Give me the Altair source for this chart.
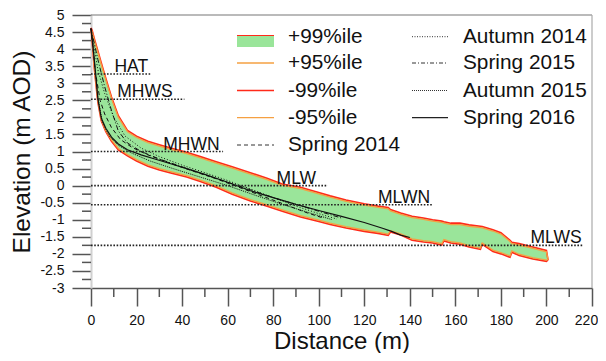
import altair as alt
import pandas as pd

FONT = "Liberation Sans, Arial, sans-serif"

# ---- percentile envelope (distance grid shared by all four edges) ----
band_dist = [0, 0.5, 1.5, 3, 4.5, 6.5, 9, 12, 16, 20, 25, 30, 35, 42, 48, 55, 62, 70, 77, 84,
             92, 100, 105, 112, 120, 126, 130.5, 131.5, 136, 141, 146, 150, 154, 155, 158, 162,
             166, 171, 171.8, 176.5, 180, 184, 184.8, 188, 194, 200, 200.7]
upper99 = [4.62, 4.55, 4.3, 3.95, 3.6, 3.15, 2.6, 2.05, 1.62, 1.45, 1.3, 1.2, 1.1, 0.98, 0.85,
           0.7, 0.55, 0.38, 0.22, 0.05, -0.05, -0.2, -0.3, -0.42, -0.53, -0.6, -0.64, -0.7,
           -0.8, -0.9, -0.95, -1.0, -1.04, -1.06, -1.1, -1.1, -1.15, -1.19, -1.2, -1.29, -1.38,
           -1.6, -1.66, -1.7, -1.8, -1.9, -2.18]
upper95 = [4.58, 4.5, 4.25, 3.9, 3.55, 3.1, 2.55, 2.0, 1.58, 1.41, 1.26, 1.16, 1.06, 0.94, 0.81,
           0.66, 0.51, 0.34, 0.18, 0.01, -0.09, -0.24, -0.34, -0.46, -0.57, -0.64, -0.68, -0.74,
           -0.84, -0.94, -0.99, -1.04, -1.08, -1.1, -1.14, -1.14, -1.19, -1.23, -1.24, -1.33,
           -1.42, -1.64, -1.7, -1.74, -1.84, -1.94, -2.16]
lower99 = [4.62, 4.25, 3.4, 2.45, 1.9, 1.58, 1.3, 1.05, 0.87, 0.72, 0.57, 0.46, 0.37, 0.25, 0.12,
           -0.05, -0.25, -0.45, -0.6, -0.75, -0.92, -1.05, -1.14, -1.24, -1.34, -1.4, -1.46,
           -1.36, -1.45, -1.6, -1.65, -1.68, -1.74, -1.62, -1.68, -1.72, -1.8, -1.87, -1.72,
           -1.93, -2.0, -2.1, -1.95, -2.05, -2.15, -2.22, -2.18]
lower95 = [4.58, 4.29, 3.45, 2.5, 1.94, 1.62, 1.34, 1.09, 0.91, 0.76, 0.61, 0.5, 0.41, 0.29, 0.16,
           -0.01, -0.21, -0.41, -0.56, -0.71, -0.88, -1.01, -1.1, -1.2, -1.3, -1.36, -1.42,
           -1.32, -1.41, -1.56, -1.61, -1.64, -1.7, -1.58, -1.64, -1.68, -1.76, -1.83, -1.68,
           -1.89, -1.96, -2.06, -1.91, -2.01, -2.11, -2.18, -2.16]

# ---- surveyed profiles ----
spring2014_d = [0, 2, 4, 6, 9, 13, 18, 25, 35, 45, 55, 65, 75, 85, 95, 102]
spring2014_e = [4.6, 3.3, 2.5, 2.1, 1.7, 1.35, 1.12, 0.9, 0.65, 0.42, 0.2, -0.05, -0.3, -0.55, -0.8, -0.95]
autumn2014_d = [0, 3, 6, 10, 15, 22, 30, 40, 50, 60, 70, 80, 90, 100, 108]
autumn2014_e = [4.6, 3.4, 2.7, 2.0, 1.45, 1.1, 0.85, 0.6, 0.38, 0.15, -0.1, -0.35, -0.6, -0.82, -0.98]
spring2015_d = [0, 3, 6, 9, 12, 16, 22, 30, 40, 50, 60, 70, 80, 90, 100, 110]
spring2015_e = [4.6, 3.7, 2.9, 2.2, 1.6, 1.25, 1.0, 0.78, 0.55, 0.32, 0.1, -0.12, -0.35, -0.55, -0.75, -0.95]
autumn2015_d = [0, 1.5, 3, 5, 8, 12, 18, 26, 36, 48, 60, 72, 84, 96, 106]
autumn2015_e = [4.6, 3.6, 2.6, 1.85, 1.45, 1.18, 0.95, 0.72, 0.5, 0.25, 0.0, -0.28, -0.55, -0.8, -1.0]
spring2016_d = [0, 1, 2, 3, 4.5, 6.5, 9, 12, 16, 22, 28, 35, 42, 50, 60, 70, 80, 90, 100, 110,
                120, 128, 132, 136, 140]
spring2016_e = [4.6, 4.0, 3.3, 2.55, 1.98, 1.68, 1.42, 1.22, 1.05, 0.9, 0.78, 0.64, 0.5, 0.33,
                0.1, -0.15, -0.35, -0.55, -0.73, -0.9, -1.08, -1.25, -1.34, -1.45, -1.52]

# ---- tidal levels ----
tide_names = ["HAT", "MHWS", "MHWN", "MLW", "MLWN", "MLWS"]
tide_levels = [3.27, 2.53, 1.0, 0.0, -0.56, -1.75]
tide_ends = [26.3, 41, 58, 104, 150, 216]
tide_label_x = [10.3, 11.5, 31.7, 81.5, 126, 193]

x_ticks = list(range(0, 221, 20))
x_minor = list(range(10, 220, 20))
y_ticks = [-3 + 0.5 * i for i in range(17)]
y_minor = [-2.75 + 0.5 * i for i in range(16)]

# ---------------- encodings ----------------
xscale = alt.Scale(domain=[0, 220], nice=False, zero=False)
yscale = alt.Scale(domain=[-3, 5], nice=False, zero=False)
xaxis = alt.Axis(values=x_ticks, title="Distance (m)", titleFont=FONT, titleFontSize=24,
                 titleFontWeight="normal", titleColor="#111", titlePadding=2,
                 labelFont=FONT, labelFontSize=14, labelColor="#111", labelPadding=7,
                 labelOffset={"condition": {"test": "datum.value == 220", "value": -6}, "value": 0},
                 labelFlush=False, labelOverlap=False, tickSize=18, tickColor="#555",
                 tickWidth=1.5, domainColor="#555", domainWidth=1.5, grid=False)
yaxis = alt.Axis(values=y_ticks, labelExpr="toString(datum.value)", title="Elevation (m AOD)",
                 titleFont=FONT, titleFontSize=24.5, titleFontWeight="normal", titleColor="#111",
                 titlePadding=5, labelFont=FONT, labelFontSize=14, labelColor="#111",
                 labelPadding=8, labelFlush=False, labelOverlap=False, tickSize=19,
                 tickColor="#555", tickWidth=1.5, domainColor="#d0d0d0", domainWidth=2,
                 grid=False)


def X(field):
    return alt.X(field, type="quantitative", scale=xscale, axis=xaxis)


def Y(field):
    return alt.Y(field, type="quantitative", scale=yscale, axis=yaxis)


band = pd.DataFrame({"d": band_dist, "u99": upper99, "u95": upper95, "l99": lower99, "l95": lower95})

GREEN = "#9ae59a"
RED = "#ff2a1a"
ORANGE = "#f5a042"

fill = alt.Chart(band).mark_area(color=GREEN, opacity=1).encode(x=X("d"), y=Y("u99"), y2="l99")


def edge(col, color, width):
    return alt.Chart(band).mark_line(color=color, strokeWidth=width).encode(x=X("d"), y=Y(col))


edges = [edge("u99", RED, 1.6), edge("l99", RED, 1.6), edge("u95", ORANGE, 1.3), edge("l95", ORANGE, 1.3)]

profiles = [
    (spring2014_d, spring2014_e, [4, 3], 1.0),
    (autumn2014_d, autumn2014_e, [1, 2], 1.0),
    (spring2015_d, spring2015_e, [5, 2, 1, 2], 1.0),
    (autumn2015_d, autumn2015_e, [1, 1], 1.0),
    (spring2016_d, spring2016_e, None, 1.2),
]
profile_layers = []
for d, e, dash, w in profiles:
    kw = dict(color="#111", strokeWidth=w)
    if dash:
        kw["strokeDash"] = dash
    df = pd.DataFrame({"d": d, "e": e})
    profile_layers.append(alt.Chart(df).mark_line(**kw).encode(x=X("d"), y=Y("e")))

tides = pd.DataFrame({"name": tide_names, "level": tide_levels, "end": tide_ends,
                      "start": [0] * len(tide_names), "lx": tide_label_x})
tide_lines = alt.Chart(tides).mark_rule(color="#222", strokeWidth=1.6, strokeDash=[1.6, 1.6]).encode(
    x=X("start"), x2="end", y=Y("level"))
tide_text = alt.Chart(tides).mark_text(align="left", baseline="alphabetic", dy=-2, font=FONT,
                                       fontSize=17.5, color="#111").encode(
    x=X("lx"), y=Y("level"), text="name:N")

# minor ticks
xm = alt.Chart(pd.DataFrame({"v": x_minor})).mark_rule(color="#555", strokeWidth=1.5).encode(
    x=X("v"), y=alt.value(273), y2=alt.value(282))
ym = alt.Chart(pd.DataFrame({"v": y_minor})).mark_rule(color="#555", strokeWidth=1.5).encode(
    y=Y("v"), x=alt.value(-9), x2=alt.value(0))

dummy = alt.Data(values=[{"a": 1}])
W, H = 501, 273
frame = [
    alt.Chart(dummy).mark_rule(color="#777", strokeWidth=1.2).encode(
        x=alt.value(0), x2=alt.value(W), y=alt.value(0)),
    alt.Chart(dummy).mark_rule(color="#aaa", strokeWidth=1.2).encode(
        x=alt.value(W), y=alt.value(0), y2=alt.value(H)),
]


def sym(x1, x2, y, color, width, dash=None):
    kw = dict(color=color, strokeWidth=width)
    if dash:
        kw["strokeDash"] = dash
    return alt.Chart(dummy).mark_rule(**kw).encode(x=alt.value(x1), x2=alt.value(x2), y=alt.value(y))


def label(x, y, txt):
    return alt.Chart(dummy).mark_text(align="left", baseline="middle", font=FONT, fontSize=20.8,
                                      color="#111").encode(x=alt.value(x), y=alt.value(y),
                                                           text=alt.value(txt))


rows = [21.7, 48.0, 75.5, 102.7, 130.0]
c1s, c1e, c1t = 146, 183, 197
c2s, c2e, c2t = 321, 357, 372
legend = [
    alt.Chart(dummy).mark_rect(color=GREEN).encode(x=alt.value(c1s), x2=alt.value(c1e),
                                                    y=alt.value(20), y2=alt.value(32)),
    sym(c1s, c1e, 20.5, RED, 1.2),
    label(c1t, rows[0], "+99%ile"),
    sym(c1s, c1e, rows[1], ORANGE, 1.3), label(c1t, rows[1], "+95%ile"),
    sym(c1s, c1e, rows[2], RED, 1.3), label(c1t, rows[2], "-99%ile"),
    sym(c1s, c1e, rows[3], ORANGE, 1.3), label(c1t, rows[3], "-95%ile"),
    sym(c1s, c1e, rows[4], "#333", 1.0, [4, 3]), label(c1t, rows[4], "Spring 2014"),
    sym(c2s, c2e, rows[0], "#333", 1.0, [1, 1.5]), label(c2t, rows[0], "Autumn 2014"),
    sym(c2s, c2e, rows[1], "#333", 1.0, [4, 2, 1, 2]), label(c2t, rows[1], "Spring 2015"),
    sym(c2s, c2e, rows[2], "#333", 1.0, [1, 1]), label(c2t, rows[2], "Autumn 2015"),
    sym(c2s, c2e, rows[3], "#222", 1.2), label(c2t, rows[3], "Spring 2016"),
]

chart = alt.layer(
    fill, *edges, *profile_layers, tide_lines, tide_text, xm, ym, *frame, *legend
).properties(
    width=W, height=H,
    padding={"left": 83, "top": 7, "right": 6, "bottom": 65},
    autosize=alt.AutoSizeParams(type="none"),
).configure_view(stroke=None)

chart.save("out.html", embed_options={"renderer": "svg", "actions": False})
